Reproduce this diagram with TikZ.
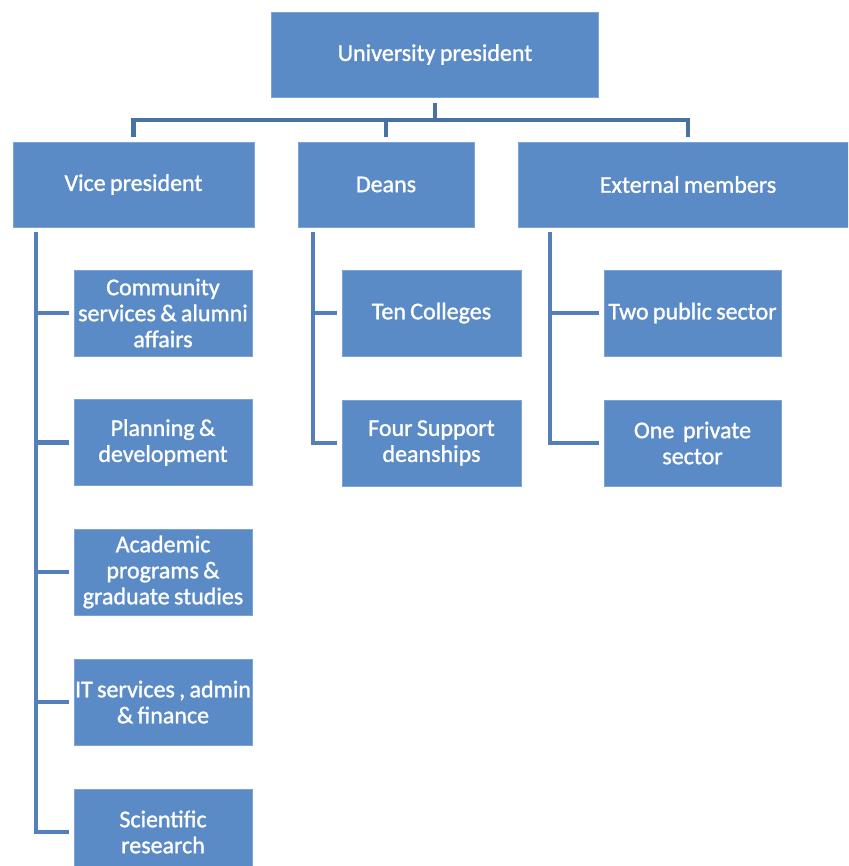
\documentclass[tikz,border=0pt]{standalone}
\usepackage{fontspec}
\newfontfamily\boxfont{Carlito}[WordSpace=0.8,FakeBold=1.2]
\definecolor{boxfill}{RGB}{91,139,198}
\definecolor{boxedge}{RGB}{125,162,212}
\definecolor{busline}{RGB}{72,114,164}
\definecolor{branchline}{RGB}{84,127,186}
\begin{document}
\begin{tikzpicture}[x=1pt,y=-1pt,
  orgbox/.style={draw=boxedge,line width=0.8pt,fill=boxfill,text=white,
    rectangle,inner xsep=0pt,inner ysep=2pt,align=center,
    font=\boxfont\fontsize{24}{26}\selectfont},
  headbox/.style={orgbox,minimum height=85pt},
  unitbox/.style={orgbox,minimum height=86pt,minimum width=178pt},
  bus/.style={draw=busline,line width=4.5pt},
  branch/.style={draw=branchline,line width=4.5pt,line join=miter}]
\useasboundingbox (0,0) rectangle (848,866);
\clip (0,0) rectangle (848,866);
\fill[white] (0,0) rectangle (848,866);

% top level
\node[headbox,minimum width=327pt] (pres) at (435,54.5) {University president};

% second level
\node[headbox,minimum width=241pt] (vp) at (133.5,184.5) {Vice president};
\node[headbox,minimum width=176pt] (deans) at (386,184.5) {Deans};
\node[headbox,minimum width=340pt] (ext) at (688,184.5) {External members};

% vice president units
\node[unitbox] (vp1) at (163,313) {Community\\services \& alumni\\affairs};
\node[unitbox] (vp2) at (163,442.5) {Planning \&\\development};
\node[unitbox] (vp3) at (163,572) {Academic\\programs \&\\graduate studies};
\node[unitbox] (vp4) at (163,702) {IT services , admin\\\& finance};
\node[unitbox] (vp5) at (163,832) {Scientific\\research};

% deans units
\node[unitbox,minimum width=179pt] (d1) at (431.5,313) {Ten Colleges};
\node[unitbox,minimum width=179pt] (d2) at (431.5,443) {Four Support\\deanships};

% external units
\node[unitbox,minimum width=177pt] (e1) at (692.5,313) {Two public sector};
\node[unitbox,minimum width=177pt] (e2) at (692.5,443) {One\ \ private\\sector};

% bus from the president to the second level
\coordinate (busL) at (vp.north |- 0,120);
\coordinate (busR) at (ext.north |- 0,120);
\draw[bus] ([yshift=-6pt]pres.south) -- (pres.south |- busL);
\draw[bus] ([xshift=-2.25pt]busL) -- ([xshift=2.25pt]busR);
\draw[bus] (busL) -- ([yshift=5pt]vp.north);
\draw[bus] (deans.north |- busL) -- ([yshift=5pt]deans.north);
\draw[bus] (busR) -- ([yshift=5pt]ext.north);

% vice president branches
\coordinate (vpT) at (36,232);
\draw[branch] (vpT) -- (vpT |- vp5.west) -- ([xshift=-5pt]vp5.west);
\foreach \u in {vp1,vp2,vp3,vp4}
  \draw[branch] (vpT |- \u.west) -- ([xshift=-5pt]\u.west);

% deans branches
\coordinate (dT) at (313,232);
\draw[branch] (dT) -- (dT |- d2.west) -- ([xshift=-5pt]d2.west);
\draw[branch] (dT |- d1.west) -- ([xshift=-5pt]d1.west);

% external branches
\coordinate (eT) at (550,232);
\draw[branch] (eT) -- (eT |- e2.west) -- ([xshift=-5pt]e2.west);
\draw[branch] (eT |- e1.west) -- ([xshift=-5pt]e1.west);
\end{tikzpicture}
\end{document}
